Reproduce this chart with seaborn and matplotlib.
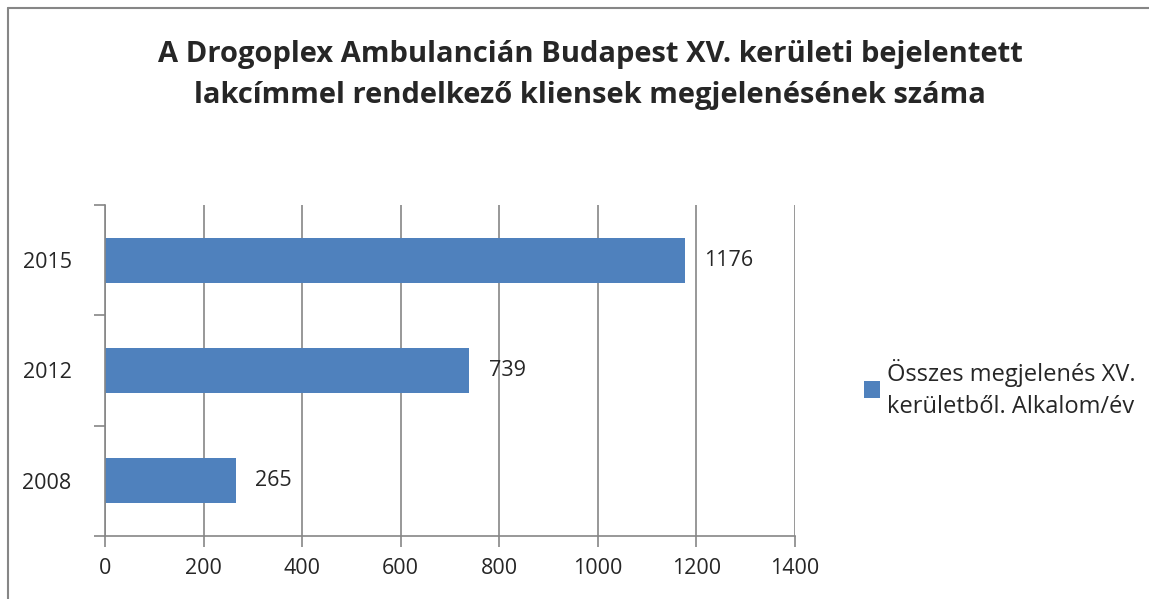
import seaborn as sns
import matplotlib.pyplot as plt
import pandas as pd

years = ["2015", "2012", "2008"]
counts = [1176, 739, 265]
series_name = "Összes megjelenés XV.\nkerületből. Alkalom/év"
title = ("A Drogoplex Ambulancián Budapest XV. kerületi bejelentett\n"
         "lakcímmel rendelkező kliensek megjelenésének száma")
x_ticks = [0, 200, 400, 600, 800, 1000, 1200, 1400]

df = pd.DataFrame({"Év": years, "Megjelenés": counts})

sns.set_style("white")
plt.rcParams['font.family'] = ['Open Sans', 'DejaVu Sans']

fig = plt.figure(figsize=(11.49, 5.99), dpi=100)
ax = fig.add_axes([105 / 1149, 1 - 536 / 599, 690 / 1149, 331 / 599])

bar_color = "#4F81BD"
sns.barplot(data=df, y="Év", x="Megjelenés", orient="h", color=bar_color,
            width=0.41, ax=ax, label=series_name, saturation=1, linewidth=0)

ax.set_xlim(0, 1400)
ax.set_ylim(2.5, -0.5)
ax.set_xticks(x_ticks)
ax.set_xticklabels([str(t) for t in x_ticks])
ax.set_yticks([-0.5, 0.5, 1.5, 2.5], minor=False)
ax.set_yticklabels([])
ax.set_yticks([0, 1, 2], minor=True)
ax.set_yticklabels(years, minor=True)
ax.set_xlabel("")
ax.set_ylabel("")

grid_c = "#868686"
ax.grid(axis="x", color=grid_c, linewidth=1.2)
ax.set_axisbelow(True)
for s in ["top", "right"]:
    ax.spines[s].set_visible(False)
for s in ["left", "bottom"]:
    ax.spines[s].set_color(grid_c)
    ax.spines[s].set_linewidth(1.2)

ax.tick_params(axis="y", which="major", length=8, width=1.2, color=grid_c, left=True)
ax.tick_params(axis="y", which="minor", length=0, labelsize=15.5, pad=24)
ax.tick_params(axis="x", length=8, width=1.2, color=grid_c, bottom=True,
               labelsize=15.5, pad=8)

for c in ax.containers:
    ax.bar_label(c, labels=[str(v) for v in counts], padding=14, fontsize=15.5)

leg = ax.legend(loc="center left", bbox_to_anchor=((864 - 105) / 690, 0.445),
                frameon=False, fontsize=17, handlelength=0.68, handleheight=0.68,
                handletextpad=0.3, borderaxespad=0, borderpad=0)
for t in leg.get_texts():
    t.set_linespacing(1.45)

fig.text(590 / 1149, 1 - 75 / 599, title, ha="center", va="center",
         fontsize=21, fontweight="bold", linespacing=1.55)

# chart border
fig.add_artist(plt.Line2D([8 / 1149, 8 / 1149], [0, 1 - 8 / 599],
                          transform=fig.transFigure, color="#868686", lw=1.5))
fig.add_artist(plt.Line2D([8 / 1149, 1], [1 - 8 / 599, 1 - 8 / 599],
                          transform=fig.transFigure, color="#868686", lw=1.5))

fig.savefig("out.png", dpi=100)
